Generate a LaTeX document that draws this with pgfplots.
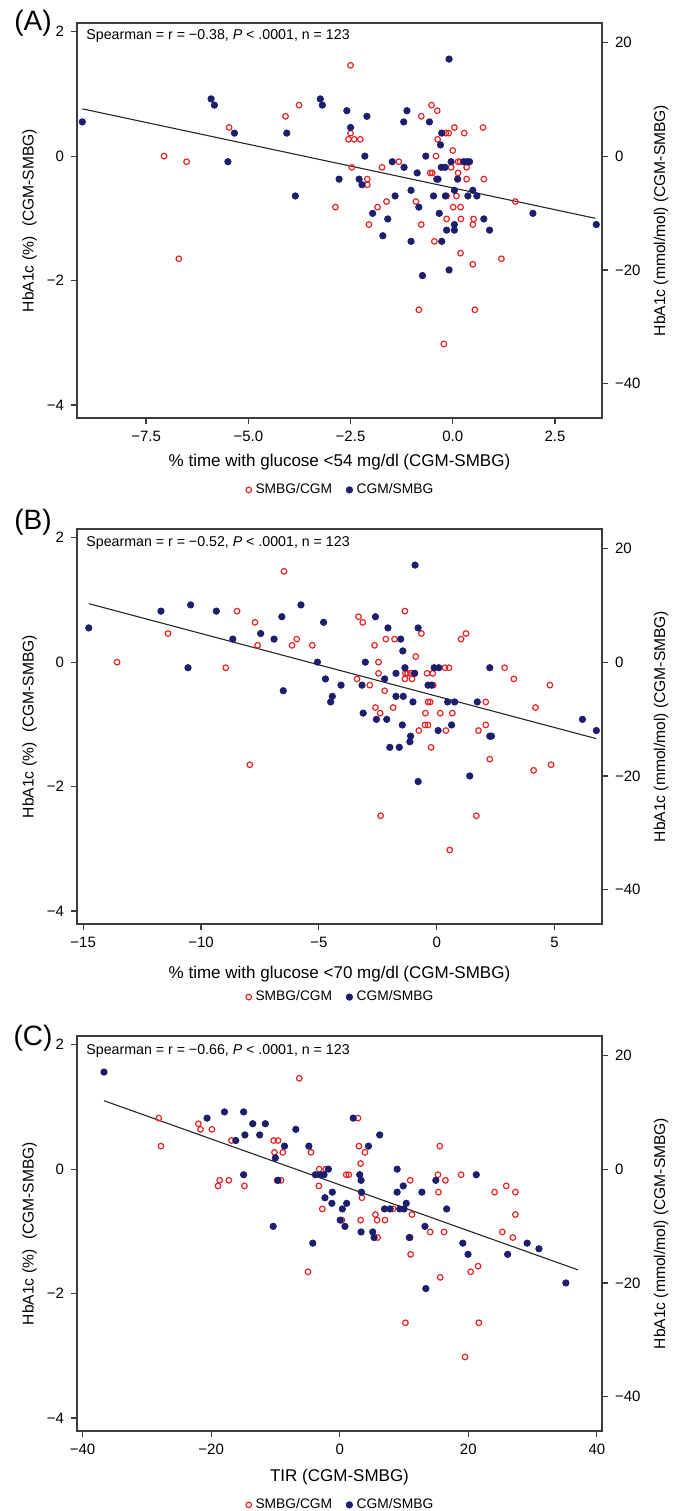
\documentclass[border=0pt]{standalone}
\usepackage{fontspec}
\setmainfont{Liberation Sans}
\usepackage{pgfplots}
\pgfplotsset{compat=1.18}

\definecolor{smbgred}{RGB}{232,36,36}
\definecolor{cgmblue}{RGB}{30,30,110}
\definecolor{axgray}{RGB}{60,60,60}

\newcommand{\tickfont}{\fontsize{7.5}{8.5}\selectfont}
\newcommand{\xlabfont}{\fontsize{8.5}{9.5}\selectfont}
\newcommand{\ylabfont}{\fontsize{7.8}{9}\selectfont}
\newcommand{\notefont}{\fontsize{7.1}{8}\selectfont}

\pgfplotsset{
  common/.style={
    scale only axis, width=262.5pt, height=197.5pt, anchor=north west,
    tick align=outside, major tick length=3pt,
    axis line style={axgray, line width=0.6pt},
    tick style={axgray, line width=0.6pt},
    tick label style={font=\tickfont},
    clip=false,
  },
  panel/.style={
    common,
    ymin=-4.21, ymax=2.14,
    ytick={-4,-2,0,2}, yticklabels={−4,−2,0,2},
    xtick pos=left, ytick pos=left,
    legend style={draw=none, fill=none, legend columns=2, anchor=center,
      font=\fontsize{6.9}{8}\selectfont,
      /tikz/every even column/.append style={column sep=5pt}},
  },
  twin/.style={
    common,
    axis x line=none, axis y line*=right,
    xmin=0, xmax=1,
    ymin=-46.01, ymax=23.39,
    ytick={-40,-20,0,20}, yticklabels={−40,−20,0,20},
  },
  red pts/.style={only marks, mark=o, mark size=1.4pt,
    mark options={draw=smbgred, line width=0.6pt}},
  blue pts/.style={only marks, mark=*, mark size=1.6pt,
    mark options={draw=cgmblue, fill=cgmblue}},
  fit line/.style={black!85, line width=0.55pt, no marks, forget plot},
}

\begin{document}
\begin{tikzpicture}
\useasboundingbox (0,0) rectangle (337.5pt,-755.5pt);

% ---------------- (A) ----------------
\begin{axis}[panel, at={(38.5pt,-11.5pt)},
  xmin=-9.19, xmax=3.65,
  xtick={-7.5,-5,-2.5,0,2.5}, xticklabels={−7.5,−5.0,−2.5,0.0,2.5},
  legend style={at={(rel axis cs:0.504,-0.182)}}]
\addplot[red pts] coordinates {
(-2.50,1.46) (-3.76,0.82) (-4.09,0.64) (-5.47,0.46) (-7.06,0) (-6.51,-0.09)
(-6.70,-1.65) (-2.50,0.37) (-2.55,0.27) (-2.41,0.27) (-2.26,0.27) (-2.47,-0.18)
(-2.87,-0.82) (-2.09,-0.37) (-2.09,-0.46) (-2.05,-1.10) (-1.73,-0.18) (-1.84,-0.82)
(-1.62,-0.73) (-1.32,-0.09) (-0.90,-0.73) (-0.83,-2.47) (-0.77,0.64) (-0.77,-1.10)
(-0.52,0.82) (-0.38,0.73) (-0.37,0.27) (-0.41,0) (-0.55,-0.27) (-0.50,-0.27)
(-0.45,-1.37) (-0.22,-3.02) (-0.17,0.37) (-0.10,0.37) (-0.15,-0.64) (-0.15,-1.01)
(-0.04,-0.18) (0.00,0.09) (0.04,0.46) (0.09,-0.64) (0.13,-0.09) (0.18,-0.09)
(0.13,-0.27) (0.01,-0.82) (0.19,-0.82) (0.20,-1.01) (0.19,-1.56) (0.28,0.37)
(0.34,-0.18) (0.34,-0.37) (0.51,-1.01) (0.49,-1.10) (0.49,-1.74) (0.54,-2.47)
(0.74,0.46) (0.76,-0.37) (1.19,-1.65) (1.53,-0.73)
};
\addlegendentry{SMBG/CGM}
\addplot[blue pts] coordinates {
(-9.06,0.55) (-5.91,0.92) (-5.83,0.82) (-5.34,0.37) (-5.50,-0.09) (-4.06,0.37)
(-3.85,-0.64) (-3.24,0.92) (-3.19,0.82) (-2.78,-0.37) (-2.59,0.73) (-2.50,0.46)
(-2.29,-0.37) (-2.22,-0.46) (-2.15,0) (-2.10,0.64) (-1.96,-0.92) (-1.71,-1.28)
(-1.59,-1.01) (-1.48,-0.09) (-1.41,-0.64) (-1.20,0.55) (-1.19,-0.18) (-1.12,0.73)
(-1.02,-0.55) (-1.02,-1.37) (-0.87,-0.27) (-0.83,-0.82) (-0.74,-1.92) (-0.66,0)
(-0.57,0.55) (-0.47,-0.64) (-0.39,-0.37) (-0.36,-0.37) (-0.33,-0.92) (-0.30,0.18)
(-0.27,0.37) (-0.28,-0.18) (-0.27,-1.37) (-0.19,-0.18) (-0.18,-0.64) (-0.15,-1.19)
(-0.09,1.56) (-0.09,-1.83) (-0.04,-0.09) (0.04,-0.55) (0.04,-1.10) (0.04,-1.19)
(0.12,-0.37) (0.27,-0.09) (0.35,-0.09) (0.41,-0.09) (0.37,-0.64) (0.49,-0.55)
(0.59,-0.64) (0.76,-1.01) (0.90,-1.19) (1.96,-0.92) (3.51,-1.10)
};
\addlegendentry{CGM/SMBG}
\addplot[fit line] coordinates {(-9.06,0.76) (3.49,-1.00)};
\end{axis}
\begin{axis}[twin, at={(38.5pt,-11.5pt)}]
\end{axis}

% ---------------- (B) ----------------
\begin{axis}[panel, at={(38.5pt,-264.5pt)},
  xmin=-15.26, xmax=7.01,
  xtick={-15,-10,-5,0,5}, xticklabels={−15,−10,−5,0,5},
  legend style={at={(rel axis cs:0.504,-0.185)}}]
\addplot[red pts] coordinates {
(-6.48,1.46) (-8.47,0.82) (-7.71,0.64) (-11.40,0.46) (-7.60,0.27) (-5.94,0.37)
(-6.14,0.27) (-5.28,0.27) (-13.56,0) (-8.95,-0.09) (-7.93,-1.65) (-3.32,0.73)
(-3.14,0.64) (-1.35,0.82) (-2.64,0.27) (-2.16,0.37) (-1.79,0.37) (-2.47,0)
(-2.47,-0.18) (-3.38,-0.27) (-2.84,-0.37) (-2.21,-0.46) (-2.60,-0.73) (-2.40,-0.82)
(-1.85,-0.73) (-2.38,-2.47) (-1.33,-0.18) (-1.24,-0.18) (-1.09,-0.18) (-0.94,-0.18)
(-1.35,-0.27) (-1.05,-0.27) (-0.89,0.09) (-0.65,0.46) (-0.41,-0.18) (-0.17,-0.18)
(-0.15,-0.37) (-0.37,-0.64) (-0.28,-0.64) (-0.48,-0.82) (-0.50,-1.01) (-0.37,-1.01)
(-0.76,-1.10) (-0.24,-1.37) (0.15,-0.82) (0.35,-0.09) (0.52,-0.09) (0.39,-1.10)
(0.66,-0.82) (0.55,-3.02) (1.03,0.37) (1.24,0.46) (1.77,-1.10) (2.08,-0.64)
(2.08,-1.01) (2.25,-1.56) (1.68,-2.47) (2.88,-0.09) (3.27,-0.27) (4.19,-0.73)
(4.11,-1.74) (4.80,-0.37) (4.85,-1.65)
};
\addlegendentry{SMBG/CGM}
\addplot[blue pts] coordinates {
(-14.76,0.55) (-11.70,0.82) (-10.44,0.92) (-9.35,0.82) (-10.55,-0.09) (-8.65,0.37)
(-7.47,0.46) (-6.90,0.37) (-6.57,0.73) (-6.51,-0.46) (-5.76,0.92) (-5.06,0)
(-4.80,0.64) (-4.72,-0.27) (-4.50,-0.64) (-4.43,-0.55) (-4.06,-0.37) (-3.17,-0.37)
(-3.12,-0.82) (-3.03,0) (-2.60,0.73) (-2.56,-0.92) (-2.21,-0.27) (-2.12,-0.92)
(-2.07,0.55) (-1.99,-1.37) (-1.73,-0.18) (-1.73,-0.55) (-1.59,-1.37) (-1.53,0.37)
(-1.44,0.18) (-1.42,-0.55) (-1.46,-1.01) (-1.35,-0.09) (-1.11,-1.19) (-1.14,-1.28)
(-1.01,-0.64) (-0.94,-0.18) (-0.92,1.56) (-0.79,0.55) (-0.79,-1.92) (-0.37,-0.37)
(-0.22,-0.37) (-0.11,-0.09) (0.06,-1.10) (0.09,-0.09) (0.46,-0.64) (0.63,-1.01)
(0.76,-0.64) (1.40,-1.83) (1.72,-0.64) (2.25,-0.09) (2.25,-1.19) (2.32,-1.19)
(6.18,-0.92) (6.77,-1.10)
};
\addlegendentry{CGM/SMBG}
\addplot[fit line] coordinates {(-14.76,0.94) (6.77,-1.23)};
\end{axis}
\begin{axis}[twin, at={(38.5pt,-264.5pt)}]
\end{axis}

% ---------------- (C) ----------------
\begin{axis}[panel, at={(38.5pt,-518pt)},
  xmin=-40.87, xmax=40.8,
  xtick={-40,-20,0,20,40}, xticklabels={−40,−20,0,20,40},
  legend style={at={(rel axis cs:0.504,-0.187)}}]
\addplot[red pts] coordinates {
(-6.29,1.46) (-28.15,0.82) (-27.81,0.37) (-21.99,0.73) (-21.65,0.64) (-19.89,0.64)
(-16.85,0.46) (-18.67,-0.18) (-18.94,-0.27) (-17.25,-0.18) (-14.82,-0.27) (-10.28,0.46)
(-9.61,0.46) (-10.15,0.27) (-8.86,0.27) (-9.74,-0.18) (-9.13,-0.18) (-4.47,0.27)
(-3.18,0) (-2.17,0) (-3.25,-0.27) (-2.71,-0.64) (-4.94,-1.65) (1.01,-0.09)
(1.42,-0.09) (0.34,-0.82) (2.84,0.82) (2.98,0.37) (3.25,0.09) (3.92,0.27)
(3.45,-0.46) (3.25,-0.82) (5.55,-0.73) (5.82,-0.82) (5.89,-1.10) (7.04,-0.82)
(8.32,-0.64) (10.22,-2.47) (10.96,-0.18) (11.23,-0.73) (10.96,-1.10) (11.03,-1.37)
(14.07,-1.01) (15.29,-0.09) (15.36,-0.37) (15.56,0.37) (15.63,-1.74) (16.24,-1.01)
(16.44,-0.18) (18.88,-0.09) (19.49,-3.02) (20.37,-1.65) (21.52,-1.56) (21.65,-2.47)
(24.09,-0.37) (25.30,-1.01) (25.91,-0.27) (26.93,-1.10) (27.33,-0.37) (27.33,-0.73)
};
\addlegendentry{SMBG/CGM}
\addplot[blue pts] coordinates {
(-36.67,1.56) (-20.64,0.82) (-17.93,0.92) (-14.95,0.92) (-16.17,0.46) (-14.75,0.55)
(-13.53,0.73) (-12.45,0.55) (-11.57,0.73) (-14.95,-0.09) (-10.35,-0.92) (-10.01,0.18)
(-9.61,-0.18) (-8.59,0.37) (-6.83,0.64) (-4.80,0.37) (-4.19,-1.19) (-3.79,-0.09)
(-2.98,-0.09) (-2.44,-0.09) (-1.76,0) (-2.30,-0.46) (-1.15,-0.37) (-1.22,-0.55)
(0.07,-0.82) (0.41,-0.64) (0.81,-0.92) (1.08,-0.55) (2.10,0.82) (3.11,-0.09)
(3.32,-0.18) (3.38,-0.37) (3.32,-1.01) (4.47,0.37) (5.14,-1.01) (5.35,-1.10)
(6.22,0.55) (6.97,-0.64) (7.85,-0.64) (8.93,0) (8.93,-0.37) (9.34,-0.64)
(9.88,-0.27) (10.01,-0.64) (10.35,-0.55) (10.83,-1.10) (12.79,-0.37) (13.26,-0.92)
(13.40,-1.92) (14.95,-0.18) (16.64,-0.64) (19.15,-1.19) (19.96,-1.37) (21.24,-0.09)
(26.12,-1.37) (29.16,-1.19) (30.99,-1.28) (35.18,-1.83)
};
\addlegendentry{CGM/SMBG}
\addplot[fit line] coordinates {(-36.67,1.10) (37.08,-1.62)};
\end{axis}
\begin{axis}[twin, at={(38.5pt,-518pt)}]
\end{axis}

% ---------------- text, in pixels of the reference ----------------
\begin{scope}[x=0.5pt, y=-0.5pt]
  \node[font=\fontsize{14}{15}\selectfont] at (33,23) {(A)};
  \node[font=\fontsize{14}{15}\selectfont] at (33,522) {(B)};
  \node[font=\fontsize{14}{15}\selectfont] at (33,1038) {(C)};

  \node[anchor=west, inner sep=0, font=\notefont] at (86,36)
    {Spearman = r = −0.38, \textit{P} < .0001, n = 123};
  \node[anchor=west, inner sep=0, font=\notefont] at (86,543)
    {Spearman = r = −0.52, \textit{P} < .0001, n = 123};
  \node[anchor=west, inner sep=0, font=\notefont] at (86,1051)
    {Spearman = r = −0.66, \textit{P} < .0001, n = 123};

  \node[font=\xlabfont] at (339.5,462) {\% time with glucose <54 mg/dl (CGM-SMBG)};
  \node[font=\xlabfont] at (339.5,974) {\% time with glucose <70 mg/dl (CGM-SMBG)};
  \node[font=\xlabfont] at (339.5,1477) {TIR (CGM-SMBG)};

  \foreach \yc in {220.5,726.5,1233.5} {
    \node[font=\ylabfont, rotate=90] at (29.5,\yc) {HbA1c (\%)\hspace{0.35em} (CGM-SMBG)};
    \node[font=\ylabfont, rotate=90] at (661,\yc) {HbA1c (mmol/mol) (CGM-SMBG)};
  }
\end{scope}
\end{tikzpicture}
\end{document}
